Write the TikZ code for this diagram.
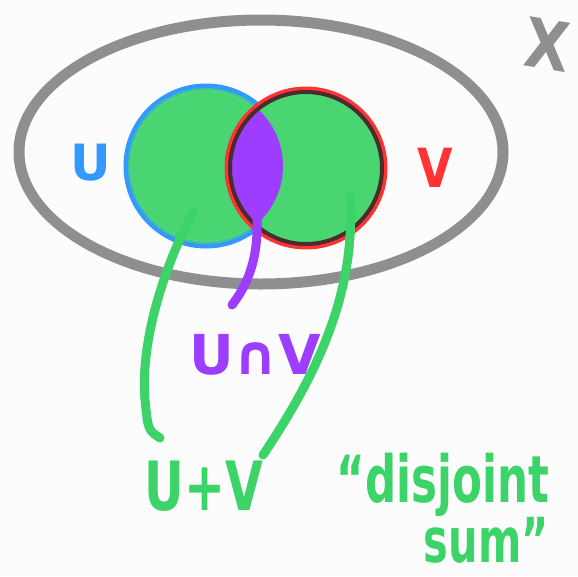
\documentclass[tikz,border=0pt]{standalone}
\usepackage{fontspec}
\setmainfont{DejaVu Sans}
\usetikzlibrary{positioning}
\definecolor{paper}{HTML}{FCFCFC}
\definecolor{ellgrey}{HTML}{8F8F8F}
\definecolor{setgreen}{HTML}{48D572}
\definecolor{penGreen}{HTML}{3CD468}
\definecolor{ublue}{HTML}{3399FF}
\definecolor{vred}{HTML}{FF3333}
\definecolor{darkring}{HTML}{4A2C2C}
\definecolor{cappurple}{HTML}{9D3DFF}
\tikzset{
  pen/.style={line width=9pt, line cap=round, line join=round},
  hand/.style={font=\fontsize{#1}{#1}\selectfont\bfseries, inner sep=0pt},
  narrow/.style={xscale=#1, transform shape},
}

\begin{document}
\begin{tikzpicture}[x=1pt, y=-1pt]
  % Paper
  \fill[paper] (0,0) rectangle (578,576);
  \useasboundingbox (0,0) rectangle (578,576);

  % Whole space X
  \fill[ellgrey, even odd rule] (261,152) ellipse (247.5 and 137.5)
    (261,152) ellipse (236.5 and 126.5);
  \node[hand=68, ellgrey, narrow=0.85, rotate=-8] (X) at (547,45) {X};

  % Sets U and V
  \draw[ublue, line width=7pt] (206,166) circle (79);
  \fill[setgreen, opacity=0.75] (206,166) circle (78);
  \fill[setgreen] (206,166) circle (75);
  \fill[setgreen] (306,168) circle (79);
  \begin{scope}
    \clip (206,166) circle (77);
    \fill[cappurple] (306,168) circle (78);
  \end{scope}
  \draw[vred, line width=5pt] (306,168) circle (79);
  \draw[darkring, line width=4pt] (306,168) circle (76);

  \node[hand=50, ublue] (U) at (91,163) {U};
  \node[hand=54, vred, narrow=0.85] (V) at (435,168) {V};

  % Labels below
  \node[hand=55, cappurple] (cap) at (255,355) {U∩V};
  \node[hand=68, penGreen, narrow=0.72] (sum) at (204,486) {U+V};
  \node[hand=65, penGreen, narrow=0.67, anchor=base east] (noteA) at (549,502) {“disjoint};
  \node[hand=62, penGreen, narrow=0.67, anchor=base east] (noteB) at (549,562) {sum”};

  % Pointers
  \coordinate (capIn) at (254,185);
  \coordinate (capEnd) at (232,305);
  \coordinate (uIn) at (193,212);
  \coordinate (vIn) at (350,196);
  \coordinate (sumL) at (160,438);
  \coordinate (sumR) at (263,455);

  \draw[pen, cappurple] (capIn) .. controls (262,240) and (255,275) .. (capEnd);
  \draw[pen, penGreen] (uIn) .. controls (165,265) and (140,340) .. (145,400)
    .. controls (148,430) .. (sumL);
  \draw[pen, penGreen] (vIn) .. controls (356,290) and (320,370) .. (sumR);
\end{tikzpicture}
\end{document}
